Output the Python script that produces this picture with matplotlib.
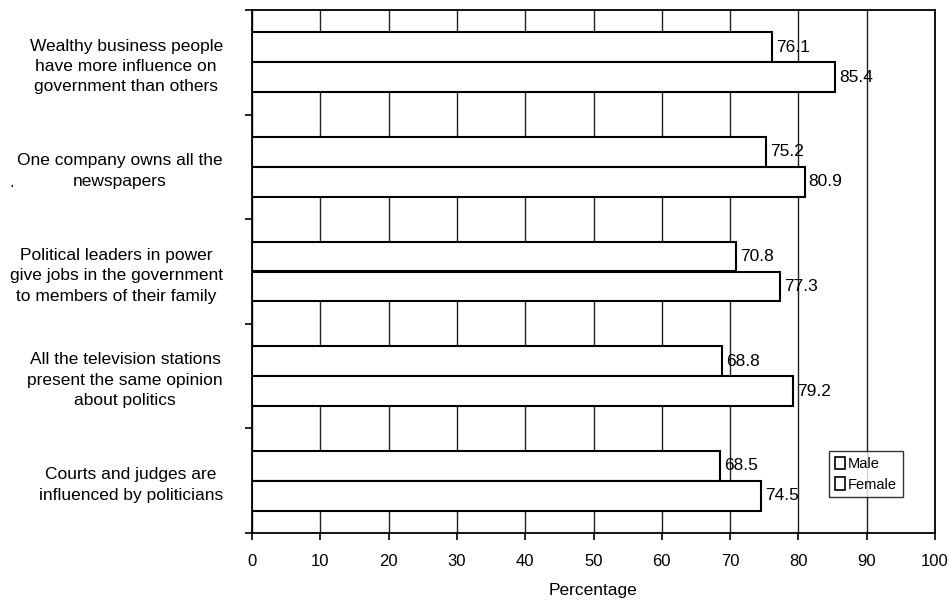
import matplotlib
matplotlib.use("Agg")
import matplotlib.pyplot as plt
import numpy as np

plt.rcParams['font.family'] = ['Liberation Sans', 'DejaVu Sans']

categories = [
    "Wealthy business people\nhave more influence on\ngovernment than others",
    "One company owns all the\nnewspapers",
    "Political leaders in power\ngive jobs in the government\nto members of their family",
    "All the television stations\npresent the same opinion\nabout politics",
    "Courts and judges are\ninfluenced by politicians",
]
male = [76.1, 75.2, 70.8, 68.8, 68.5]
female = [85.4, 80.9, 77.3, 79.2, 74.5]
series_names = ["Male", "Female"]
xticks = [0, 10, 20, 30, 40, 50, 60, 70, 80, 90, 100]

fig = plt.figure(figsize=(9.51, 6.01), dpi=100)
ax = fig.add_axes([252/951, 1-533/601, 683/951, 523/601])

y = np.arange(len(categories))
h = 0.285
ax.barh(y - h/2, male, height=h, color='white', edgecolor='black', linewidth=1.5, zorder=3, label=series_names[0])
ax.barh(y + h/2, female, height=h, color='white', edgecolor='black', linewidth=1.5, zorder=3, label=series_names[1])

for yi, v in zip(y, male):
    ax.text(v + 0.6, yi - h/2, f"{v:.1f}", va='center', ha='left', fontsize=12.5, zorder=4)
for yi, v in zip(y, female):
    ax.text(v + 0.6, yi + h/2, f"{v:.1f}", va='center', ha='left', fontsize=12.5, zorder=4)

ax.set_xlim(0, 100)
ax.set_ylim(len(categories) - 0.5, -0.5)
ax.set_xticks(xticks)
ax.set_xticklabels([str(t) for t in xticks], fontsize=12)
ax.xaxis.grid(True, color='#222222', linewidth=1.0, zorder=0)
ax.set_axisbelow(True)

ax.set_yticks(np.arange(-0.5, len(categories), 1.0))
ax.set_yticklabels([])
ax.set_yticks(y, minor=True)
ax.set_yticklabels(categories, minor=True, fontsize=12.5, multialignment='center', linespacing=1.45)
ax.tick_params(axis='y', which='minor', length=0, pad=21)
ax.tick_params(axis='y', which='major', length=5, width=1.2, direction='out')
ax.tick_params(axis='x', length=5, width=1.2, direction='out', pad=10)

for s in ax.spines.values():
    s.set_linewidth(1.3)
    s.set_color('black')

ax.set_xlabel("Percentage", fontsize=12.5, labelpad=10)

leg = ax.legend(loc='upper left', bbox_to_anchor=((829-252)/683, (533-451)/523),
                fontsize=10.5, frameon=True, fancybox=False, handlelength=0.7, handleheight=0.9,
                handletextpad=0.2, borderpad=0.4, labelspacing=0.45, borderaxespad=0)
leg.get_frame().set_edgecolor('black')
leg.get_frame().set_linewidth(1.0)
for p in leg.get_patches():
    p.set_linewidth(1.2)

fig.text(12/951, 1-183/601, ".", fontsize=12, ha='center', va='center')

fig.savefig("out.png", dpi=100)
